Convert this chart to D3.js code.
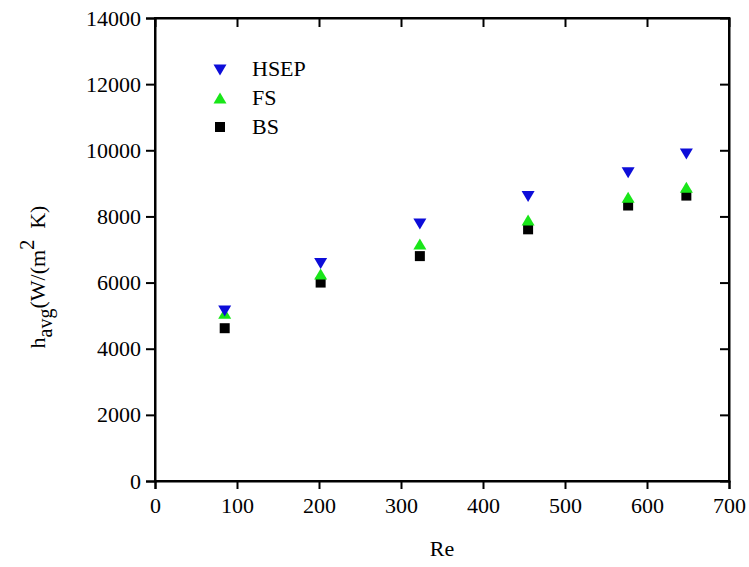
<!DOCTYPE html>
<html>
<head>
<meta charset="utf-8">
<script src="https://cdn.jsdelivr.net/npm/d3@7"></script>
<style>
  html, body { margin: 0; padding: 0; background: #fff; }
  svg text { font-family: "Liberation Serif", "Times New Roman", serif; fill: #000; }
</style>
</head>
<body>
<div id="chart"></div>
<script>
const reValues = [85, 202, 323, 455, 577, 648];
const hsepValues = [5140, 6580, 7770, 8600, 9320, 9890];
const fsValues = [5070, 6260, 7170, 7890, 8580, 8880];
const bsValues = [4620, 6000, 6800, 7610, 8330, 8630];
const xTicks = [0, 100, 200, 300, 400, 500, 600, 700];
const yTicks = [0, 2000, 4000, 6000, 8000, 10000, 12000, 14000];
const seriesNames = ["HSEP", "FS", "BS"];

(function () {
const W = 749, H = 567;
const pL = 155, pR = 729, pT = 18, pB = 481;
const FONT = '"Liberation Serif", "Times New Roman", serif';

const svg = d3.select("#chart").append("svg").attr("width", W).attr("height", H)
  .style("font-family", FONT);

const x = d3.scaleLinear().domain([0, 700]).range([pL, pR]);
const y = d3.scaleLinear().domain([0, 14000]).range([pB, pT]);

const fontSize = 22;

function styleAxis(g, showText) {
  g.attr("font-family", null).attr("font-size", null).style("font-family", FONT);
  g.select(".domain").attr("stroke", "#000").attr("stroke-width", 2);
  g.selectAll(".tick line").attr("stroke", "#000").attr("stroke-width", 2);
  g.selectAll(".tick text").style("font-size", fontSize + "px").style("font-family", FONT).attr("fill", "#000");
  if (!showText) g.selectAll(".tick text").remove();
}

const gx = svg.append("g").attr("transform", `translate(0,${pB})`)
  .call(d3.axisBottom(x).tickValues(xTicks).tickFormat(d3.format("d")).tickSizeOuter(0).tickSize(8).tickPadding(8));
styleAxis(gx, true);

const gxt = svg.append("g").attr("transform", `translate(0,${pT})`)
  .call(d3.axisTop(x).tickValues(xTicks.slice(1, -1)).tickSizeOuter(0).tickSize(-9));
styleAxis(gxt, false);

const gy = svg.append("g").attr("transform", `translate(${pL},0)`)
  .call(d3.axisLeft(y).tickValues(yTicks).tickFormat(d3.format("d")).tickSizeOuter(0).tickSize(9).tickPadding(5));
styleAxis(gy, true);

const gyr = svg.append("g").attr("transform", `translate(${pR},0)`)
  .call(d3.axisRight(y).tickValues(yTicks.slice(1, -1)).tickSizeOuter(0).tickSize(-9));
styleAxis(gyr, false);

svg.append("rect").attr("x", pL).attr("y", pT).attr("width", pR - pL).attr("height", pB - pT)
  .attr("fill", "none").attr("stroke", "#000").attr("stroke-width", 2);

const triDown = d3.symbol().type({
  draw(ctx) {
    const w = 6.5, h = 5.5;
    ctx.moveTo(-w, -h); ctx.lineTo(w, -h); ctx.lineTo(0, h); ctx.closePath();
  }
})();
const triUp = d3.symbol().type({
  draw(ctx) {
    const w = 6.5, h = 5.5;
    ctx.moveTo(-w, h); ctx.lineTo(w, h); ctx.lineTo(0, -h); ctx.closePath();
  }
})();
const sq = d3.symbol().type({
  draw(ctx) {
    const s = 5;
    ctx.rect(-s, -s, 2 * s, 2 * s);
  }
})();

const series = [
  { values: bsValues, path: sq, color: "#000000" },
  { values: fsValues, path: triUp, color: "#19e619" },
  { values: hsepValues, path: triDown, color: "#0d0dd9" }
];

series.forEach(s => {
  svg.append("g").selectAll("path").data(s.values).join("path")
    .attr("d", s.path)
    .attr("fill", s.color)
    .attr("transform", (d, i) => `translate(${x(reValues[i])},${y(d)})`);
});

const legendItems = [
  { name: seriesNames[0], path: triDown, color: "#0d0dd9", my: 70, ty: 76 },
  { name: seriesNames[1], path: triUp, color: "#19e619", my: 98, ty: 105 },
  { name: seriesNames[2], path: sq, color: "#000000", my: 127, ty: 134 }
];
const lg = svg.append("g");
legendItems.forEach(it => {
  lg.append("path").attr("d", it.path).attr("fill", it.color)
    .attr("transform", `translate(220,${it.my})`);
  lg.append("text").attr("x", 252).attr("y", it.ty).style("font-size", fontSize + "px").text(it.name);
});

svg.append("text").attr("x", (pL + pR) / 2).attr("y", 556)
  .attr("text-anchor", "middle").style("font-size", fontSize + "px").text("Re");

const yl = svg.append("text")
  .attr("transform", `translate(45,277) rotate(-90)`)
  .attr("text-anchor", "middle").style("font-size", fontSize + "px");
yl.append("tspan").text("h");
yl.append("tspan").attr("dy", 7).style("font-size", "20px").text("avg");
yl.append("tspan").attr("dy", -7).text("(W/(m");
yl.append("tspan").attr("dy", -11).style("font-size", "20px").text("2");
yl.append("tspan").attr("dy", 11).text("\u00a0\u00a0K)");
})();
</script>
</body>
</html>
